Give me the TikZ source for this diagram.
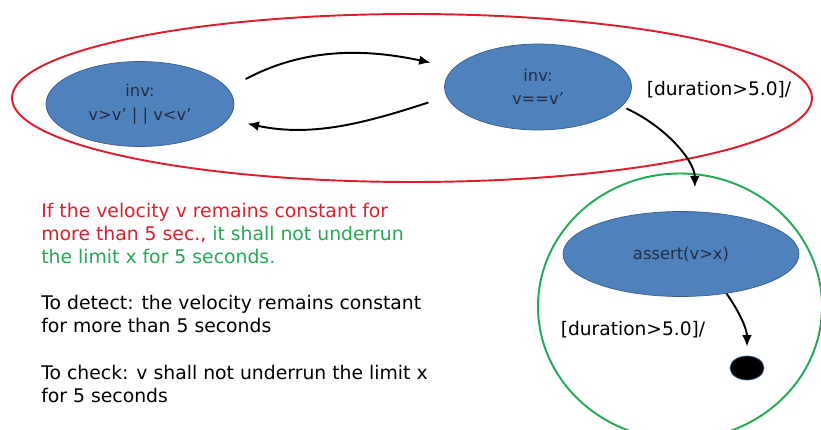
\documentclass[tikz,border=0pt]{standalone}
\usepackage{fontspec}
\setmainfont{DejaVu Sans}
\usetikzlibrary{arrows.meta,shapes.geometric}
\definecolor{stateblue}{RGB}{79,129,189}
\definecolor{stateedge}{RGB}{56,93,138}
\definecolor{statetext}{RGB}{35,45,70}
\definecolor{outerred}{RGB}{222,30,45}
\definecolor{innergreen}{RGB}{35,170,85}
\tikzset{
  state/.style={ellipse,draw=stateedge,fill=stateblue,text=statetext,align=center,
    inner sep=0pt,font=\fontsize{9.3}{13.4}\selectfont},
  trans/.style={-{Latex[length=6.5pt,width=5.5pt]},black,line width=1.1pt},
  guard/.style={font=\fontsize{10.6}{12}\selectfont},
  note/.style={anchor=base west,align=left,inner sep=0pt,font=\fontsize{10.7}{13.3}\selectfont}
}
\begin{document}
\begin{tikzpicture}
  \useasboundingbox (0,0) rectangle (16.42,8.6);
  % monitor regions
  \draw[outerred,line width=1.1pt] (8.24,6.64) ellipse (8.0 and 1.68);
  \draw[innergreen,line width=1.1pt] (13.6,2.47) ellipse (2.84 and 2.66);
  % states
  \node[state,minimum width=3.76cm,minimum height=1.7cm](chg)at(2.8,6.52){inv:\\v>v’ | | v<v’};
  \node[state,minimum width=3.74cm,minimum height=1.72cm](cst)at(10.76,6.86){inv:\\v==v’};
  \node[state,minimum width=4.72cm,minimum height=1.7cm](chk)at(13.62,3.52){assert(v>x)};
  \node[ellipse,fill=black,draw=stateedge,minimum width=0.68cm,minimum height=0.48cm,inner sep=0pt](fin)at(14.94,1.24){};
  % transitions
  \draw[trans,shorten <=0.4cm,shorten >=0.48cm](chg.10) to[out=28,in=168] (cst.167);
  \draw[trans,shorten <=0.38cm,shorten >=0.4cm](cst.186) to[out=198,in=-12] (chg.-10);
  \draw[trans,shorten <=0.1cm,shorten >=0.48cm](cst.-13) to[out=-25,in=90] (chk.72);
  \draw[trans,shorten >=0.18cm](chk.-41) to[out=-55,in=90] (fin.north);
  \node[guard](g1)at(14.38,6.8){[duration>5.0]/};
  \node[guard](g2)at(12.66,2.0){[duration>5.0]/};
  % requirement text
  \node[note](req)at(0.82,3.32){\textcolor{outerred}{If the velocity v remains constant for}\\
    \textcolor{outerred}{more than 5 sec.,} \textcolor{innergreen}{it shall not underrun}\\
    \textcolor{innergreen}{the limit x for 5 seconds.}};
  \node[note](det)at(0.82,1.94){To detect: the velocity remains constant\\for more than 5 seconds};
  \node[note](chkt)at(0.82,0.54){To check: v shall not underrun the limit x\\for 5 seconds};
\end{tikzpicture}
\end{document}
